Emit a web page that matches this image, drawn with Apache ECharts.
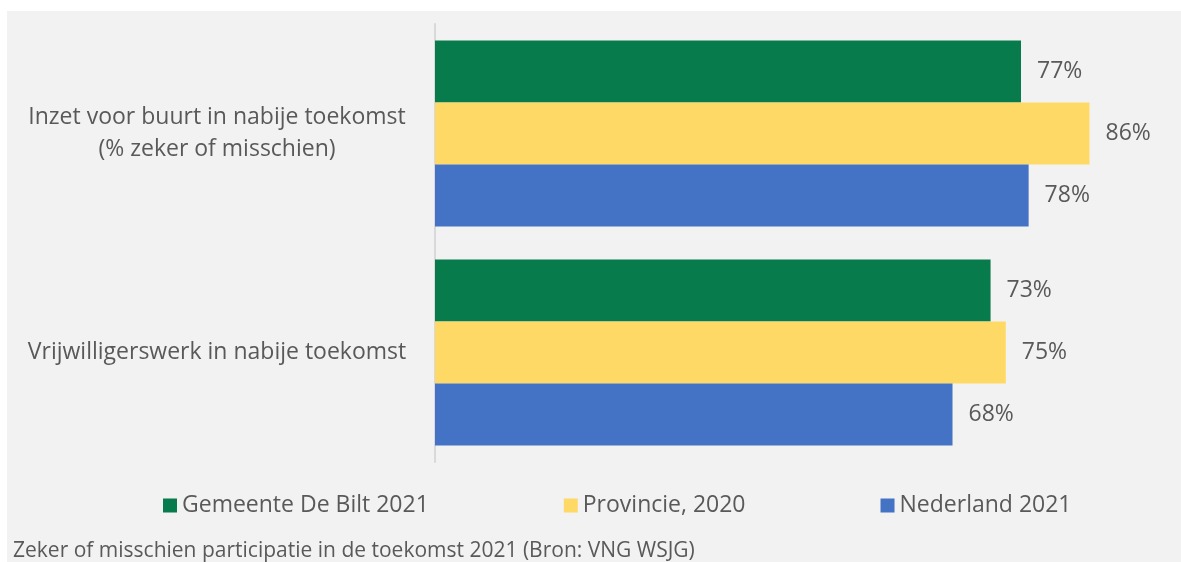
<!DOCTYPE html>
<html><head><meta charset="utf-8">
<script src="https://cdn.jsdelivr.net/npm/echarts@6/dist/echarts.min.js"></script>
<style>
html,body{margin:0;padding:0;background:#fff;width:1181px;height:562px;overflow:hidden}
#bg{position:absolute;left:7px;top:11px;width:1174px;height:551px;background:#f2f2f2}
#c{position:absolute;left:0;top:0;width:1181px;height:562px}
</style></head><body>
<div id="bg"></div>
<div id="c"></div>
<script>
const categories = ["Inzet voor buurt in nabije toekomst\n(% zeker of misschien)", "Vrijwilligerswerk in nabije toekomst"];
const seriesNames = ["Gemeente De Bilt 2021", "Provincie, 2020", "Nederland 2021"];
const gemeente = [77, 73];
const provincie = [86, 75];
const nederland = [78, 68];
const footer = "Zeker of misschien participatie in de toekomst 2021 (Bron: VNG WSJG)";

const colors = ["#077b4c", "#ffd966", "#4472c4"];
const font = "'Open Sans', sans-serif";
const txt = "#595959";

function mk(name, data, color) {
  return {
    name, type: 'bar', data, barGap: '0%', barCategoryGap: '15%',
    itemStyle: { color },
    label: { show: true, position: 'right', distance: 16, formatter: '{c}%', color: txt, fontSize: 23, fontFamily: font }
  };
}

const chart = echarts.init(document.getElementById('c'), null, { renderer: 'canvas' });
chart.setOption({
  backgroundColor: 'transparent',
  animation: false,
  grid: { left: 435, top: 24, height: 438, width: 723 },
  xAxis: { type: 'value', min: 0, max: 95, show: false },
  yAxis: {
    type: 'category', data: categories, inverse: true,
    axisLine: { lineStyle: { color: '#d9d9d9', width: 2 } },
    axisTick: { show: false },
    axisLabel: { color: txt, fontSize: 23, fontFamily: font, align: 'center', margin: 218, lineHeight: 32 }
  },
  legend: {
    left: 158, top: 489, itemWidth: 14, itemHeight: 14, itemGap: 135,
    icon: 'rect',
    textStyle: { color: txt, fontSize: 23, fontFamily: font },
    data: seriesNames
  },
  graphic: [{
    type: 'text', left: 13, top: 541,
    style: { text: footer, fill: txt, fontSize: 21, fontFamily: font }
  }],
  series: [mk(seriesNames[0], gemeente, colors[0]), mk(seriesNames[1], provincie, colors[1]), mk(seriesNames[2], nederland, colors[2])]
});
</script></body></html>
